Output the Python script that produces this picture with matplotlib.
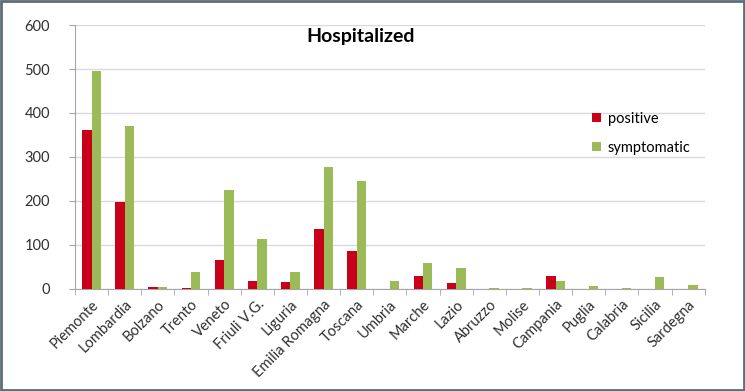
import numpy as np
import matplotlib
matplotlib.use("Agg")
import matplotlib.pyplot as plt
from matplotlib.patches import Rectangle

plt.rcParams['font.family'] = ['Lato', 'DejaVu Sans']

REGIONS = ["Piemonte", "Lombardia", "Bolzano", "Trento", "Veneto", "Friuli V.G.",
           "Liguria", "Emilia Romagna", "Toscana", "Umbria", "Marche", "Lazio",
           "Abruzzo", "Molise", "Campania", "Puglia", "Calabria", "Sicilia", "Sardegna"]
positive = [362, 197, 5, 3, 65, 18, 15, 137, 87, 0, 30, 14, 0, 1, 30, 0, 0, 0, 0]
symptomatic = [495, 370, 4, 38, 225, 113, 38, 277, 245, 18, 60, 48, 3, 2, 18, 7, 3, 27, 10]
yticks = [0, 100, 200, 300, 400, 500, 600]

fig = plt.figure(figsize=(7.45, 3.91), dpi=100)
ax = fig.add_axes([0.1007, 0.261, 0.8453, 0.675])

ind = np.arange(len(REGIONS))
width = 0.285
r1 = ax.bar(ind - width / 2, positive, width, color="#C8001A", zorder=3)
r2 = ax.bar(ind + width / 2, symptomatic, width, color="#9BBB59", zorder=3)

ax.set_xlim(-0.5, len(REGIONS) - 0.5)
ax.set_ylim(0, 600)
ax.set_yticks(yticks)
ax.yaxis.grid(True, color="#d9d9d9", linewidth=1, zorder=0)
ax.tick_params(axis="y", length=4, color="#a6a6a6", labelsize=10.5,
               labelcolor="#303030", pad=14)

ax.set_xticks(ind)
ax.set_xticklabels(REGIONS, rotation=45, ha="right", rotation_mode="anchor",
                   fontsize=10.5, color="#303030")
ax.set_xticks(np.arange(-0.5, len(REGIONS), 1), minor=True)
ax.tick_params(axis="x", which="major", length=0, pad=6)
ax.tick_params(axis="x", which="minor", length=4, color="#a6a6a6")

for s in ["top", "right"]:
    ax.spines[s].set_visible(False)
for s in ["left", "bottom"]:
    ax.spines[s].set_color("#a6a6a6")

ax.text(0.454, 0.955, "Hospitalized", transform=ax.transAxes, ha="center", va="center",
        fontsize=14, fontweight="bold")

ax.legend((r1, r2), ("positive", "symptomatic"), loc="center left",
          bbox_to_anchor=(0.80, 0.59), frameon=False, fontsize=10.5,
          handlelength=0.6, handleheight=0.6, handletextpad=0.5, labelspacing=1.05)

fig.patches.append(Rectangle((0.002, 0.003), 0.996, 0.994, transform=fig.transFigure,
                             fill=False, edgecolor="#5d6d7a", linewidth=2))

fig.savefig("out.png", dpi=100)
plt.close()
